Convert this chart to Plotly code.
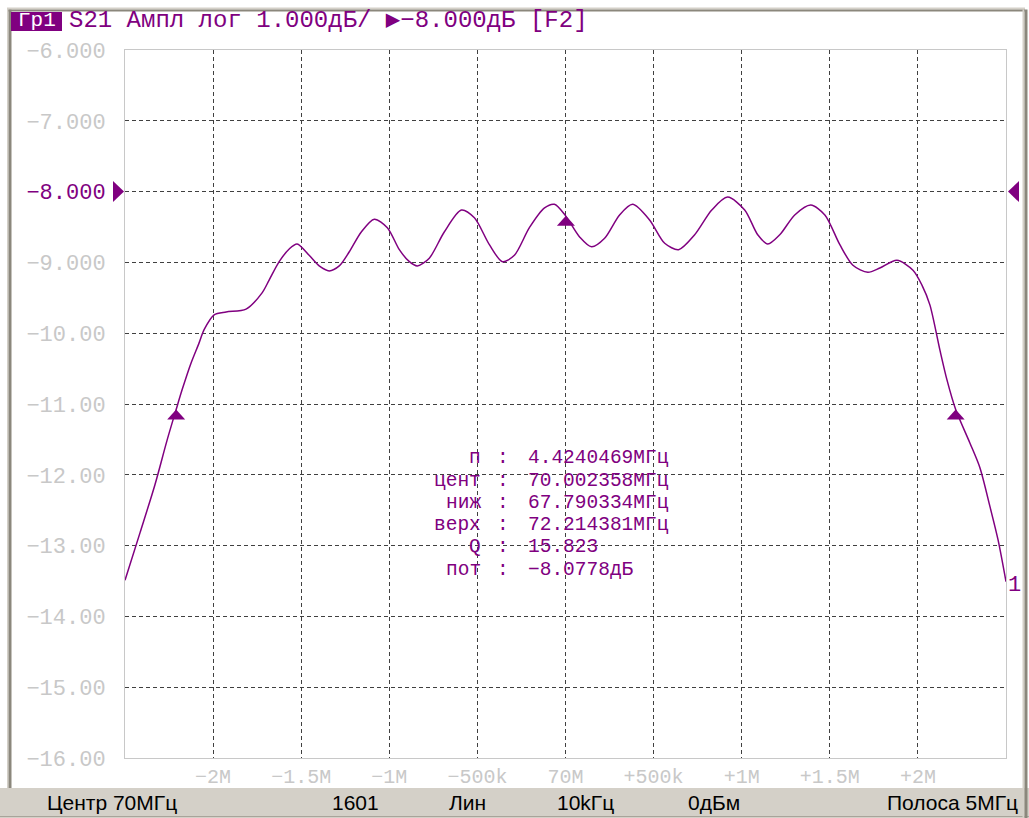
import plotly.graph_objects as go

# ---------------------------------------------------------------------------
# Measured S21 magnitude around the 70 MHz centre (offset in MHz, level in dB)
# ---------------------------------------------------------------------------
freq_offset_mhz = [
    -2.500, -2.415, -2.330, -2.261, -2.2097, -2.176, -2.125, -2.080, -2.051,
    -1.994, -1.926, -1.813, -1.722, -1.682, -1.625, -1.568, -1.523, -1.455,
    -1.398, -1.341, -1.284, -1.227, -1.159, -1.085, -1.011, -0.943, -0.886,
    -0.841, -0.773, -0.688, -0.591, -0.517, -0.432, -0.358, -0.290, -0.205,
    -0.119, -0.063, 0.000, 0.080, 0.148, 0.222, 0.307, 0.381, 0.477, 0.563,
    0.642, 0.733, 0.830, 0.920, 1.017, 1.091, 1.148, 1.216, 1.301, 1.392,
    1.472, 1.557, 1.631, 1.716, 1.784, 1.881, 1.972, 2.023, 2.068, 2.125,
    2.165, 2.2144, 2.295, 2.352, 2.409, 2.455, 2.500,
]
s21_db = [
    -13.49, -12.82, -12.14, -11.51, -11.078, -10.80, -10.42, -10.14, -9.95,
    -9.74, -9.70, -9.66, -9.43, -9.25, -8.99, -8.81, -8.74, -8.90,
    -9.05, -9.12, -9.05, -8.85, -8.57, -8.39, -8.51, -8.82, -8.99,
    -9.05, -8.94, -8.57, -8.26, -8.37, -8.75, -8.99, -8.90, -8.51,
    -8.23, -8.18, -8.34, -8.64, -8.78, -8.66, -8.33, -8.18, -8.40, -8.73,
    -8.82, -8.61, -8.26, -8.078, -8.26, -8.61, -8.74, -8.61, -8.33, -8.19,
    -8.33, -8.75, -9.04, -9.14, -9.08, -8.97, -9.11, -9.32, -9.60, -10.24,
    -10.66, -11.078, -11.55, -11.90, -12.45, -12.92, -13.51,
]

# Axis ticks
x_tick_vals = [-2.0, -1.5, -1.0, -0.5, 0.0, 0.5, 1.0, 1.5, 2.0]
x_tick_text = ["−2M", "−1.5M", "−1M", "−500k", "70M", "+500k", "+1M", "+1.5M", "+2M"]
y_tick_vals = [-6, -7, -8, -9, -10, -11, -12, -13, -14, -15, -16]
y_tick_text = ["−6.000", "−7.000", "−8.000", "−9.000", "−10.00", "−11.00",
               "−12.00", "−13.00", "−14.00", "−15.00", "−16.00"]
ref_level_db = -8.0

# Bandwidth search results
center_mhz = 70.0
bw_lower_mhz = 67.790334
bw_upper_mhz = 72.214381
bw_center_mhz = 70.002358
bw_loss_db = -8.0778
bw_level_db = bw_loss_db - 3.0
center_marker_db = -8.34
bw_labels = ["п", "цент", "ниж", "верх", "Q", "пот"]
bw_values = ["4.4240469", "70.002358", "67.790334", "72.214381", "15.823", "−8.0778"]
bw_units = ["МГц", "МГц", "МГц", "МГц", "", "дБ"]

# Header and status line
header_tag = "Гр1"
header_text = "S21 Ампл лог 1.000дБ/ ▶−8.000дБ [F2]"
status_items = ["Центр 70МГц", "1601", "Лин", "10kГц", "0дБм", "Полоса 5МГц"]

# ---------------------------------------------------------------------------
# Styling / geometry
# ---------------------------------------------------------------------------
PURPLE = "#800080"
GRID = "#404040"
FRAME = "#c8c8c8"
LABEL_GRAY = "#c8c8c8"
PANEL = "#d4d0c8"
EDGE = "#8b877c"
MONO = "Liberation Mono, DejaVu Sans Mono, monospace"
SANS = "Liberation Sans, Arial, sans-serif"

W, H = 1029, 818
L, R, T, B = 125, 23, 50, 60
PW = W - L - R
PH = H - T - B


def px(x):
    return (x - L) / PW


def py(y):
    return (H - B - y) / PH


fig = go.Figure()

fig.add_trace(go.Scatter(
    x=freq_offset_mhz, y=s21_db, mode="lines",
    line=dict(color=PURPLE, width=1.5, shape="spline", smoothing=0.8),
    hoverinfo="skip", showlegend=False,
))

shapes = []

# window chrome
shapes.append(dict(type="rect", xref="paper", yref="paper",
                   x0=px(0), x1=px(W), y0=py(H), y1=py(788),
                   fillcolor=PANEL, line=dict(width=0), layer="below"))
shapes.append(dict(type="line", xref="paper", yref="paper",
                   x0=px(0), x1=px(W), y0=py(816.5), y1=py(816.5),
                   line=dict(color="#a8a49a", width=1)))
shapes.append(dict(type="rect", xref="paper", yref="paper",
                   x0=px(7), x1=px(8.5), y0=py(788), y1=py(8),
                   fillcolor=PANEL, line=dict(width=0)))
shapes.append(dict(type="rect", xref="paper", yref="paper",
                   x0=px(8.5), x1=px(11.5), y0=py(788), y1=py(9.5),
                   fillcolor=EDGE, line=dict(width=0)))
shapes.append(dict(type="rect", xref="paper", yref="paper",
                   x0=px(7), x1=px(1025), y0=py(9.5), y1=py(7.5),
                   fillcolor=PANEL, line=dict(width=0)))
shapes.append(dict(type="rect", xref="paper", yref="paper",
                   x0=px(8.5), x1=px(1025), y0=py(11.5), y1=py(9.5),
                   fillcolor=EDGE, line=dict(width=0)))
shapes.append(dict(type="rect", xref="paper", yref="paper",
                   x0=px(1022.5), x1=px(1024.5), y0=py(H), y1=py(9.5),
                   fillcolor=PANEL, line=dict(width=0)))
shapes.append(dict(type="rect", xref="paper", yref="paper",
                   x0=px(1024.5), x1=px(1027.5), y0=py(H), y1=py(9.5),
                   fillcolor=EDGE, line=dict(width=0)))

# header tag box
shapes.append(dict(type="rect", xref="paper", yref="paper",
                   x0=px(11), x1=px(62), y0=py(31), y1=py(12),
                   fillcolor=PURPLE, line=dict(width=0)))

# reference-level pointers on both sides of the grid
shapes.append(dict(type="path", xref="paper", yref="y",
                   xsizemode="pixel", ysizemode="pixel",
                   xanchor=0, yanchor=ref_level_db,
                   path="M-1,0 L-12,10.5 L-12,-10.5 Z",
                   fillcolor=PURPLE, line=dict(width=0)))
shapes.append(dict(type="path", xref="paper", yref="y",
                   xsizemode="pixel", ysizemode="pixel",
                   xanchor=1, yanchor=ref_level_db,
                   path="M2,0 L13,10.5 L13,-10.5 Z",
                   fillcolor=PURPLE, line=dict(width=0)))

# bandwidth markers: lower / centre / upper, tip on the trace
marker_x = [bw_lower_mhz - center_mhz, bw_center_mhz - center_mhz, bw_upper_mhz - center_mhz]
marker_y = [bw_level_db, center_marker_db, bw_level_db]
for mx, my in zip(marker_x, marker_y):
    shapes.append(dict(type="path", xref="x", yref="y",
                       xsizemode="pixel", ysizemode="pixel",
                       xanchor=mx, yanchor=my,
                       path="M0,0 L-9,-10 L9,-10 Z",
                       fillcolor=PURPLE, line=dict(width=0)))

annotations = []

annotations.append(dict(xref="paper", yref="paper", x=px(36.5), y=py(21),
                        text=header_tag, showarrow=False,
                        font=dict(family=MONO, size=21, color="white"),
                        xanchor="center", yanchor="middle"))
annotations.append(dict(xref="paper", yref="paper", x=px(67), y=py(21),
                        text=header_text, showarrow=False,
                        font=dict(family=MONO, size=24, color=PURPLE),
                        xanchor="left", yanchor="middle"))

# bandwidth readout block
row_y = [458, 480.5, 503, 525, 547, 570]
for lab, val, unit, ry in zip(bw_labels, bw_values, bw_units, row_y):
    f = dict(family=MONO, size=19.5, color=PURPLE)
    annotations.append(dict(xref="paper", yref="paper", x=px(483), y=py(ry),
                            text=lab, showarrow=False, font=f,
                            xanchor="right", yanchor="middle"))
    annotations.append(dict(xref="paper", yref="paper", x=px(503), y=py(ry),
                            text=":", showarrow=False, font=f,
                            xanchor="center", yanchor="middle"))
    annotations.append(dict(xref="paper", yref="paper", x=px(526), y=py(ry),
                            text=val + unit, showarrow=False, font=f,
                            xanchor="left", yanchor="middle"))

# trace number at the end of the sweep
annotations.append(dict(xref="x", yref="y", x=freq_offset_mhz[-1], y=s21_db[-1],
                        text="1", showarrow=False, xanchor="left", yanchor="middle",
                        xshift=0, yshift=-4,
                        font=dict(family=MONO, size=22, color=PURPLE)))

# status line
status_pos = [(45, "left"), (330, "left"), (447, "left"), (555, "left"),
              (686, "left"), (1020, "right")]
for txt, (sx, anc) in zip(status_items, status_pos):
    annotations.append(dict(xref="paper", yref="paper", x=px(sx), y=py(802),
                            text=txt, showarrow=False, xanchor=anc, yanchor="middle",
                            font=dict(family=SANS, size=21, color="black")))

y_ticks_styled = [
    f'<span style="color:{PURPLE}">{t}</span>' if v == ref_level_db else t
    for v, t in zip(y_tick_vals, y_tick_text)
]

fig.update_layout(
    width=W, height=H,
    margin=dict(l=L, r=R, t=T, b=B, pad=0),
    paper_bgcolor="white", plot_bgcolor="white",
    showlegend=False,
    hovermode=False,
    shapes=shapes,
    annotations=annotations,
    xaxis=dict(
        range=[-2.5, 2.5], tickmode="array", tickvals=x_tick_vals, ticktext=x_tick_text,
        showgrid=True, gridcolor=GRID, gridwidth=1, griddash="4px,3px",
        zeroline=False, showline=True, mirror=True, linecolor=FRAME, linewidth=1,
        ticks="", tickfont=dict(family=MONO, size=20, color=LABEL_GRAY),
        ticklabelstandoff=0, fixedrange=True,
    ),
    yaxis=dict(
        range=[-16, -6], tickmode="array", tickvals=y_tick_vals, ticktext=y_ticks_styled,
        showgrid=True, gridcolor=GRID, gridwidth=1, griddash="4px,3px",
        zeroline=False, showline=True, mirror=True, linecolor=FRAME, linewidth=1,
        ticks="", tickfont=dict(family=MONO, size=22, color=LABEL_GRAY),
        ticklabelstandoff=14, fixedrange=True,
    ),
)

fig.write_html("out.html", config={"displayModeBar": False, "staticPlot": True})
